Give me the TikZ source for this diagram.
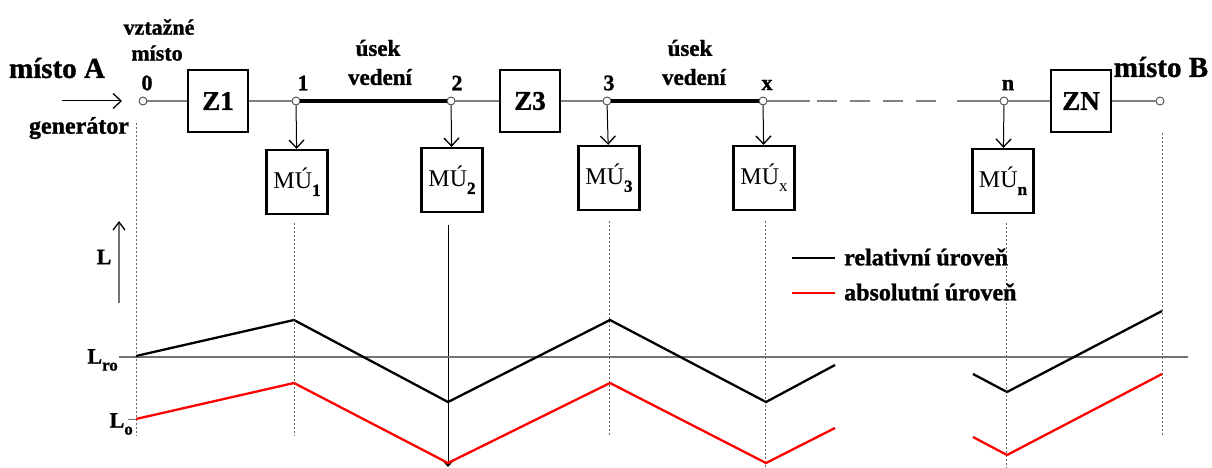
\documentclass[tikz,border=0pt]{standalone}
\usepackage{fontspec}
\setmainfont[BoldFeatures={FakeBold=1.2}]{Liberation Serif}
\usetikzlibrary{arrows.meta}
\tikzset{
  lbl/.style={font=\bfseries\fontsize{23}{25}\selectfont, inner sep=0pt},
  numlbl/.style={font=\bfseries\fontsize{22}{24}\selectfont, inner sep=0pt},
  biglbl/.style={font=\bfseries\fontsize{29}{31}\selectfont, inner sep=0pt},
  leglbl/.style={font=\bfseries\fontsize{24}{26}\selectfont, inner sep=0pt, anchor=west},
  zbox/.style={draw, line width=2.4pt, minimum width=60pt, minimum height=62pt, font=\bfseries\fontsize{27}{29}\selectfont, inner sep=0pt},
  mbox/.style={draw, line width=2.2pt, minimum width=61pt, minimum height=64pt, font=\fontsize{24}{26}\selectfont, inner sep=0pt},
  pt/.style={circle, draw=black!70, fill=white, minimum size=8pt, inner sep=0pt, line width=0.9pt},
  wire/.style={black!50, line width=1.3pt},
  bus/.style={black, line width=4pt},
  tap/.style={black, line width=1pt, -{Straight Barb[length=8pt,width=15pt,line width=1.3pt]}},
  guide/.style={black!60, line width=0.9pt, dash pattern=on 2pt off 2pt},
  rel/.style={black, line width=2.3pt, line join=miter},
  absl/.style={red, line width=2.3pt, line join=miter},
}
\newcommand{\muq}[1]{M\'U\raisebox{-0.3em}{\fontsize{17}{18}\selectfont #1}}
\newcommand{\levq}[1]{L\raisebox{-0.32em}{\fontsize{17}{18}\selectfont #1}}
\begin{document}
\begin{tikzpicture}[x=1pt,y=-1pt]
\useasboundingbox (0,0) rectangle (1212,468);
% top texts
\node[biglbl] (mA) at (57,68) {místo A};
\node[biglbl] (mB) at (1161,67) {místo B};
\node[lbl, font=\bfseries\fontsize{22}{24}\selectfont] (vz1) at (159,27) {vztažné};
\node[lbl, font=\bfseries\fontsize{22}{24}\selectfont] (vz2) at (157,53) {místo};
\node[lbl, font=\bfseries\fontsize{24}{26}\selectfont] (gen) at (79,128) {generátor};
\node[lbl] (u1) at (378,48) {úsek};
\node[lbl] (v1) at (380,77) {vedení};
\node[lbl] (u2) at (690,48) {úsek};
\node[lbl] (v2) at (694,77) {vedení};
% points on line
\node[pt] (p0) at (143,101) {};
\node[pt] (p1) at (296,101) {};
\node[pt] (p2) at (451,101) {};
\node[pt] (p3) at (607,101) {};
\node[pt] (px) at (763,101) {};
\node[pt] (pn) at (1004,101) {};
\node[pt] (pB) at (1160,101) {};
\node[numlbl] (l0) at (147,83) {0};
\node[numlbl] (l1) at (303,83) {1};
\node[numlbl] (l2) at (457,83) {2};
\node[numlbl] (l3) at (609,83) {3};
\node[numlbl] (lx) at (767,85) {x};
\node[numlbl] (ln) at (1008,85) {n};
% boxes
\node[zbox] (z1) at (218,101) {Z1};
\node[zbox] (z3) at (530,101) {Z3};
\node[zbox] (zn) at (1081,101) {ZN};
\node[mbox] (m1) at (297,182) {\muq{\bfseries 1}};
\node[mbox] (m2) at (452,180) {\muq{\bfseries 2}};
\node[mbox] (m3) at (609,178) {\muq{\bfseries 3}};
\node[mbox] (mx) at (764,178) {\muq{x}};
\node[mbox] (mn) at (1003,181) {\muq{\bfseries n}};
% coordinates
\coordinate (aS) at (62,101);
\coordinate (aE) at (122,101);
\coordinate (c1) at (810,101);
\coordinate (c2) at (817,101);
\coordinate (c3) at (947,101);
\coordinate (c4) at (957,101);
% main line
\draw[wire] (p0) -- (z1);
\draw[wire] (z1) -- (p1);
\draw[bus] (p1) -- (p2);
\draw[wire] (p2) -- (z3);
\draw[wire] (z3) -- (p3);
\draw[bus] (p3) -- (px);
\draw[wire] (px) -- (c1);
\draw[wire, dash pattern=on 20pt off 13pt] (c2) -- (c3);
\draw[wire] (c4) -- (pn);
\draw[wire] (pn) -- (zn);
\draw[wire] (zn) -- (pB);
\draw[black, line width=1pt, -{Straight Barb[length=8pt,width=15pt,line width=1.3pt]}] (aS) -- (aE);
% taps
\draw[tap] (p1) -- (m1);
\draw[tap] (p2) -- (m2);
\draw[tap] (p3) -- (m3);
\draw[tap] (px) -- (mx);
\draw[tap] (pn) -- (mn);
% guides
\coordinate (g0t) at (136,123); \coordinate (g0b) at (136,436);
\coordinate (g1b) at (294,436);
\coordinate (g3b) at (609,437);
\coordinate (gxb) at (765,468);
\coordinate (gnb) at (1006,468);
\coordinate (gBt) at (1162,133); \coordinate (gBb) at (1162,436);
\coordinate (g2b) at (448,467);
\draw[guide] (g0t) -- (g0b);
\draw[guide] (m1.south) ++(-3,8) -- (g1b);
\draw[guide] (m3.south) ++(0,10) -- (g3b);
\draw[guide] (mx.south) ++(1,10) -- (gxb);
\draw[guide] (mn.south) ++(3,9) -- (gnb);
\draw[guide] (gBt) -- (gBb);
\draw[black, line width=1pt, -{Straight Barb[length=6pt,width=11pt,line width=1.6pt]}] (m2.south) ++(-4,12) -- (g2b);
% axis
\coordinate (Lro0) at (119,357); \coordinate (Lro1) at (1188,357);
\draw[black!55, line width=1.4pt] (Lro0) -- (Lro1);
\coordinate (ax0) at (119,303); \coordinate (ax1) at (119,221);
\draw[black!55, line width=1.3pt, -{Straight Barb[length=8pt,width=12pt,line width=1.3pt,black]}] (ax0) -- (ax1);
\node[numlbl] (Lax) at (104,257) {L};
\node[numlbl, anchor=east] (Lro) at (118,360) {\levq{ro}};
\node[numlbl, anchor=east] (L0) at (133,424) {\levq{o}};
\coordinate (t0) at (128,419); \coordinate (t1) at (136,419);
\draw[black!55, line width=1pt] (t0) -- (t1);
% levels
\draw[rel] (136,356) -- (294,320) -- (448,402) -- (610,320) -- (766,402) -- (835,365);
\draw[rel] (973,374) -- (1007,392) -- (1162,311);
\draw[absl] (136,419) -- (294,383) -- (448,463) -- (610,383) -- (766,463) -- (835,428);
\draw[absl] (973,437) -- (1007,455) -- (1162,374);
% legend
\coordinate (k1a) at (792,258); \coordinate (k1b) at (835,258);
\coordinate (k2a) at (792,293); \coordinate (k2b) at (835,293);
\draw[rel] (k1a) -- (k1b);
\draw[absl] (k2a) -- (k2b);
\node[leglbl] (leg1) at (844,257) {relativní úroveň};
\node[leglbl] (leg2) at (844,292) {absolutní úroveň};
\end{tikzpicture}
\end{document}
